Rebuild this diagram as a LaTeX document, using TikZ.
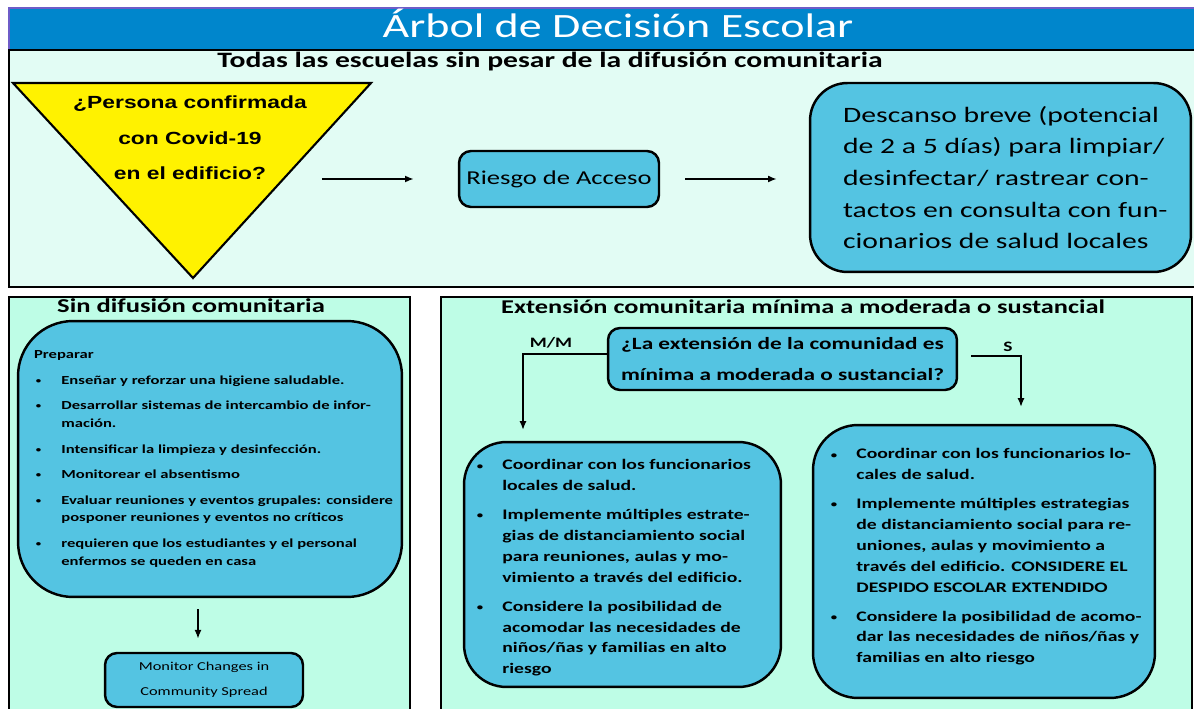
\documentclass[tikz,border=0pt]{standalone}
\usepackage{graphicx}
\usepackage{fontspec}
\setmainfont{Carlito}[FakeStretch=1.35]
\newfontfamily\arialfont{Liberation Sans}[FakeStretch=1.3]
\usetikzlibrary{arrows.meta}

\definecolor{titleblue}{RGB}{0,134,204}
\definecolor{edgepurple}{RGB}{110,92,200}
\definecolor{topmint}{RGB}{226,252,244}
\definecolor{lowmint}{RGB}{190,253,230}
\definecolor{boxblue}{RGB}{84,196,226}

\newcommand{\bitem}[1]{\makebox[15.5pt][l]{\hspace{1pt}\raisebox{0.4pt}{\scalebox{0.65}{\textbullet}}}#1}
\newcommand{\bcont}[1]{\hspace*{15.5pt}#1}

\begin{document}
\begin{tikzpicture}[x=0.02cm, y=-0.02cm,
	panel/.style={draw=black, line width=1.4pt},
	infobox/.style={draw=black, fill=boxblue, line width=1.4pt, rectangle},
	heading/.style={anchor=base, inner sep=0pt, font=\bfseries\fontsize{#1}{#1}\selectfont},
	boxtext/.style={anchor=west, align=left, inner sep=0pt},
	arr/.style={-{Latex[length=5pt,width=4pt]}, line width=1.1pt}]

\useasboundingbox (0,0) rectangle (1194,709);
\fill[white] (0,0) rectangle (1194,709);

% title bar
\fill[titleblue] (8,7) rectangle (1194,50);
\draw[edgepurple, line width=1.2pt] (9,50) -- (9,8) -- (1194,8);
\node[anchor=base, inner sep=0pt, text=white, font=\fontsize{19.4}{22}\selectfont] (title) at (618,38)
	{Árbol de Decisión Escolar};

% all schools
\draw[panel, fill=topmint] (9,50) rectangle (1200,287);
\node[heading=12.5] (alltitle) at (550,68)
	{Todas las escuelas sin pesar de la difusión comunitaria};

\filldraw[fill=yellow, draw=black, line width=1.2pt]
	(13,83) -- (371,83) -- (193,278) -- cycle;
\node[anchor=base, align=center, inner sep=0pt, font=\arialfont\bfseries\fontsize{10}{20.4}\selectfont] (covid) at (190,180)
	{¿Persona confirmada\\con Covid-19\\en el edificio?};

\node[infobox, rounded corners=0.24cm, minimum width=4cm, minimum height=1.12cm,
	font=\fontsize{11.2}{14}\selectfont] (access) at (559,179) {Riesgo de Acceso};

\node[infobox, rounded corners=0.75cm, minimum width=7.62cm, minimum height=3.78cm] (pause) at (1000.5,177.5) {};
\node[boxtext, font=\fontsize{12.5}{18}\selectfont] (pausetext) at ([xshift=0.68cm]pause.west)
	{Descanso breve (potencial\\
	de 2 a 5 días) para limpiar/\\
	desinfectar/ rastrear con-\\
	tactos en consulta con fun-\\
	cionarios de salud locales};

\draw[arr] ([xshift=-2.72cm]access.west) -- ([xshift=-0.88cm]access.west);
\draw[arr, shorten <=0.5cm, shorten >=0.64cm] (access.east) -- (access.east -| pause.west);

% no community spread
\draw[panel, fill=lowmint] (9,297) rectangle (410,715);
\node[heading=11.2] (nonetitle) at (191,313) {Sin difusión comunitaria};

\node[infobox, rounded corners=1.1cm, minimum width=7.68cm, minimum height=5.52cm] (prep) at (210,459) {};
\node[boxtext, font=\bfseries\fontsize{7}{10.2}\selectfont] (preptext) at ([xshift=0.34cm]prep.west)
	{Preparar\\[4.3pt]
	\bitem{Enseñar y reforzar una higiene saludable.}\\[4.3pt]
	\bitem{Desarrollar sistemas de intercambio de infor-}\\
	\bcont{mación.}\\[4.3pt]
	\bitem{Intensificar la limpieza y desinfección.}\\[4.3pt]
	\bitem{Monitorear el absentismo}\\[4.3pt]
	\bitem{Evaluar reuniones y eventos grupales: considere}\\
	\bcont{posponer reuniones y eventos no críticos}\\[4.3pt]
	\bitem{requieren que los estudiantes y el personal}\\
	\bcont{enfermos se queden en casa}};

\node[infobox, rounded corners=0.24cm, minimum width=3.96cm, minimum height=1.08cm,
	align=center, font=\fontsize{6.9}{14.2}\selectfont] (monitor) at (204,680)
	{Monitor Changes in\\Community Spread};

\draw[arr, shorten <=0.22cm, shorten >=0.26cm]
	([xshift=-0.12cm]monitor.north |- prep.south) -- ([xshift=-0.12cm]monitor.north);

% minimal to substantial spread
\draw[panel, fill=lowmint] (441,297) rectangle (1192,715);
\node[heading=11.1] (spreadtitle) at (803,314)
	{Extensión comunitaria mínima a moderada o sustancial};

\node[infobox, rounded corners=0.24cm, minimum width=6.98cm, minimum height=1.24cm,
	align=center, font=\bfseries\fontsize{9.8}{18.1}\selectfont] (level) at (782.5,359)
	{¿La extensión de la comunidad es\\mínima a moderada o sustancial?};

\node[heading=8.2] (mmlabel) at (551,348) {M/M};
\node[heading=8.2] (slabel) at (1008,352) {S};
\coordinate (mmend) at (523,430);
\coordinate (send) at (1021,407);
\draw[arr] ([yshift=0.1cm]level.west) -| (mmend);
\draw[arr, shorten <=0.26cm] ([yshift=0.06cm]level.east) -| (send);

\node[infobox, rounded corners=0.85cm, minimum width=6.34cm, minimum height=4.9cm] (mmbox) at (622.5,564.5) {};
\node[boxtext, font=\bfseries\fontsize{8.3}{11.9}\selectfont] (mmtext) at ([xshift=0.24cm, yshift=-0.07cm]mmbox.west)
	{\bitem{Coordinar con los funcionarios}\\
	\bcont{locales de salud.}\\[4.5pt]
	\bitem{Implemente múltiples estrate-}\\
	\bcont{gias de distanciamiento social}\\
	\bcont{para reuniones, aulas y mo-}\\
	\bcont{vimiento a través del edificio.}\\[4.5pt]
	\bitem{Considere la posibilidad de}\\
	\bcont{acomodar las necesidades de}\\
	\bcont{niños/ñas y familias en alto}\\
	\bcont{riesgo}};

\node[infobox, rounded corners=0.9cm, minimum width=6.84cm, minimum height=5.46cm] (sbox) at (984,561.5) {};
\node[boxtext, font=\bfseries\fontsize{8.3}{11.9}\selectfont] (stext) at ([xshift=0.34cm, yshift=0.09cm]sbox.west)
	{\bitem{Coordinar con los funcionarios lo-}\\
	\bcont{cales de salud.}\\[4.5pt]
	\bitem{Implemente múltiples estrategias}\\
	\bcont{de distanciamiento social para re-}\\
	\bcont{uniones, aulas y movimiento a}\\
	\bcont{través del edificio. CONSIDERE EL}\\
	\bcont{DESPIDO ESCOLAR EXTENDIDO}\\[4.5pt]
	\bitem{Considere la posibilidad de acomo-}\\
	\bcont{dar las necesidades de niños/ñas y}\\
	\bcont{familias en alto riesgo}};
\end{tikzpicture}
\end{document}
